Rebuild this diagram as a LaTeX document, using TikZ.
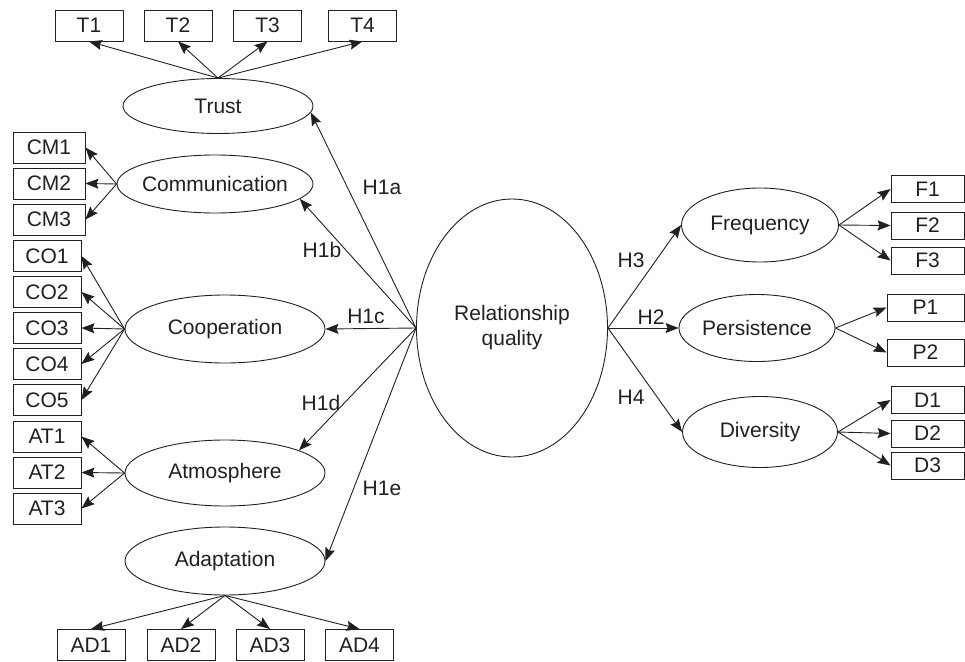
\documentclass[tikz,border=0pt]{standalone}
\usepackage{fontspec}
\setmainfont{Liberation Sans}
\usetikzlibrary{shapes.geometric,positioning,arrows.meta}
\definecolor{ink}{HTML}{231F20}
\tikzstyle{edge} = [draw=ink,line width=0.9pt,-{Stealth[length=13pt,width=10pt,inset=2pt]}]
\tikzstyle{latent} = [draw=ink,ellipse,inner sep=0pt,line width=0.9pt]
\tikzstyle{item} = [draw=ink,rectangle,inner sep=0pt,line width=0.9pt,minimum width=68pt,minimum height=31pt]
\tikzstyle{ritem} = [item,minimum width=73pt,minimum height=27pt]

\begin{document}
\begin{tikzpicture}[x=1pt,y=-1pt,node distance=36pt,on grid,text=ink,font=\fontsize{21}{25}\selectfont]
   \useasboundingbox (0,0) rectangle (965,661);

   % constructs
   \node[latent,minimum width=191pt,minimum height=258pt,align=center] (rq) at (512,328) {Relationship\\quality};
   \node[latent,minimum width=190pt,minimum height=55pt] (trust) at (218,106) {Trust};
   \node[latent,minimum width=196pt,minimum height=58pt,inner xsep=-4pt] (comm) at (215,184) {Communication};
   \node[latent,minimum width=200pt,minimum height=68pt] (coop) at (225,329) {Cooperation};
   \node[latent,minimum width=200pt,minimum height=66pt] (atm) at (225,473) {Atmosphere};
   \node[latent,minimum width=200pt,minimum height=68pt] (adapt) at (225,561) {Adaptation};
   \node[latent,minimum width=157pt,minimum height=74pt] (freq) at (760,225) {Frequency};
   \node[latent,minimum width=156pt,minimum height=67pt] (pers) at (757,328) {Persistence};
   \node[latent,minimum width=155pt,minimum height=71pt] (div) at (760,432) {Diversity};

   % items
   \node[item] (t1) at (89,25.5) {T1};
   \node[item] (t2) at (178,25.5) {T2};
   \node[item] (t3) at (267.5,25.5) {T3};
   \node[item] (t4) at (362.5,25.5) {T4};

   \node[item,minimum width=72pt] (cm1) at (49,147.5) {CM1};
   \node[item,minimum width=72pt] (cm2) [below=of cm1] {CM2};
   \node[item,minimum width=72pt] (cm3) [below=of cm2] {CM3};

   \node[item] (co1) at (47,256) {CO1};
   \node[item] (co2) [below=of co1] {CO2};
   \node[item] (co3) [below=of co2] {CO3};
   \node[item] (co4) [below=of co3] {CO4};
   \node[item] (co5) [below=of co4] {CO5};

   \node[item] (at1) at (47,436.5) {AT1};
   \node[item] (at2) [below=of at1] {AT2};
   \node[item] (at3) [below=of at2] {AT3};

   \node[item] (ad1) at (91,645) {AD1};
   \node[item] (ad2) at (181,645) {AD2};
   \node[item] (ad3) at (270,645) {AD3};
   \node[item] (ad4) at (359.5,645) {AD4};

   \node[ritem] (f1) at (927.5,189) {F1};
   \node[ritem] (f2) at (927.5,225.5) {F2};
   \node[ritem] (f3) at (927.5,260.5) {F3};
   \node[ritem,minimum width=77pt] (p1) at (925.5,307.5) {P1};
   \node[ritem,minimum width=77pt] (p2) at (925.5,352.5) {P2};
   \node[ritem] (d1) at (927.5,400) {D1};
   \node[ritem] (d2) at (927.5,433.5) {D2};
   \node[ritem] (d3) at (927.5,465.5) {D3};

   % measurement paths
   \foreach \n in {t1,t2,t3,t4} \path[edge] (trust.north) -- (\n.south);
   \foreach \n in {cm1,cm2,cm3} \path[edge] (comm.west) -- (\n.east);
   \foreach \n in {co1,co2,co3,co4,co5} \path[edge] (coop.west) -- (\n.east);
   \foreach \n in {at1,at2,at3} \path[edge] (atm.west) -- (\n.east);
   \foreach \n in {ad1,ad2,ad3,ad4} \path[edge] (adapt.south) -- (\n.north);
   \foreach \n in {f1,f2,f3} \path[edge] (freq.east) -- (\n.west);
   \foreach \n in {p1,p2} \path[edge] (pers.east) -- (\n.west);
   \foreach \n in {d1,d2,d3} \path[edge] (div.east) -- (\n.west);

   % hypotheses
   \path[edge] (rq.west) -- (trust.-4);
   \path[edge] (rq.west) -- (comm.-10);
   \path[edge] (rq.west) -- (coop.east);
   \path[edge] (rq.west) -- (atm.17);
   \path[edge] (rq.west) -- (adapt.east);
   \path[edge] (rq.east) -- (freq.west);
   \path[edge] (rq.east) -- (pers.west);
   \path[edge] (rq.east) -- (div.west);

   \node (h1a) at (382,187) {H1a};
   \node (h1b) at (322,250) {H1b};
   \node (h1c) at (366,316) {H1c};
   \node (h1d) at (321,403) {H1d};
   \node (h1e) at (382,488) {H1e};
   \node (h3) at (631,260) {H3};
   \node (h2) at (651,317) {H2};
   \node (h4) at (631,397) {H4};
\end{tikzpicture}
\end{document}
